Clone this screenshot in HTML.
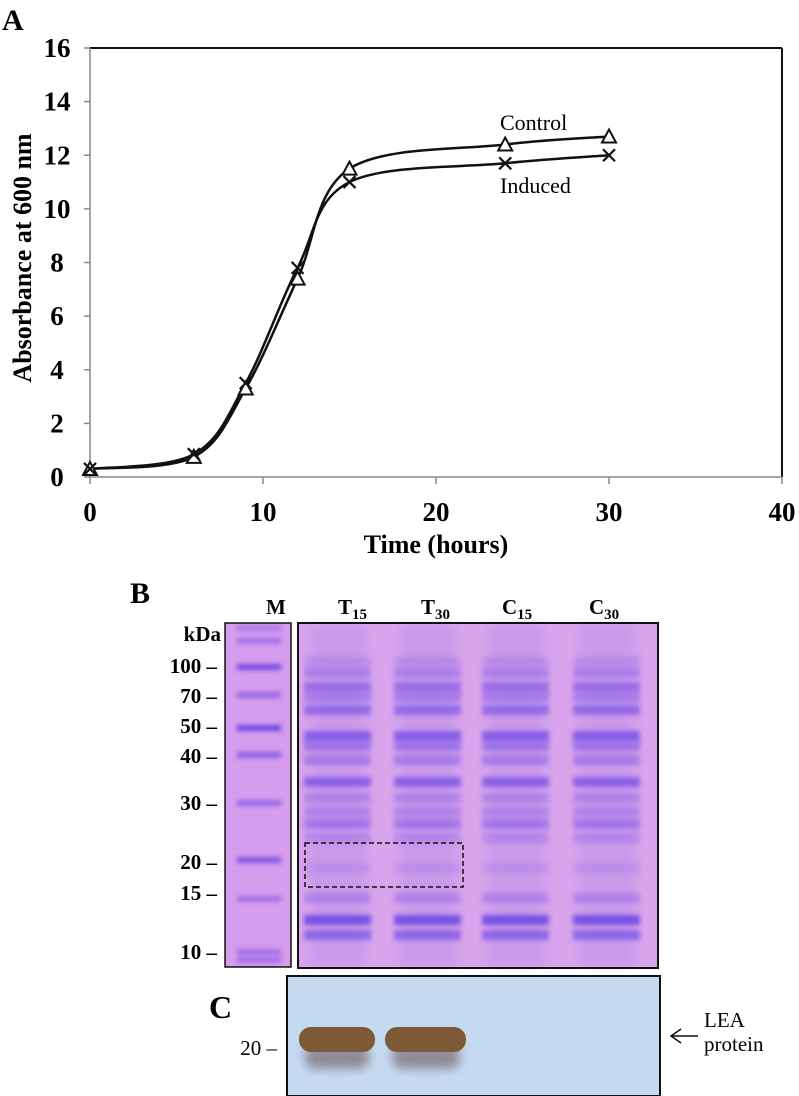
<!DOCTYPE html>
<html><head><meta charset="utf-8"><style>
html,body{margin:0;padding:0;background:#fff;}
svg{display:block;font-family:"Liberation Serif",serif;}
</style></head><body>
<svg id="fig" width="799" height="1096" viewBox="0 0 799 1096" xmlns="http://www.w3.org/2000/svg">
<defs>
<filter id="blur2" x="-10%" y="-300%" width="120%" height="700%"><feGaussianBlur stdDeviation="2.4"/></filter>
<filter id="blur4" x="-20%" y="-50%" width="140%" height="200%"><feGaussianBlur stdDeviation="5"/></filter>
</defs>
<text x="2" y="30" font-size="30" font-weight="bold">A</text>
<g id="chart"></g>

<!-- Panel B -->
<text x="130" y="603" font-size="30" font-weight="bold">B</text>
<g font-weight="bold" font-size="21">
<text x="266" y="614">M</text>
<text x="338" y="614">T<tspan font-size="15" dy="5">15</tspan></text>
<text x="421" y="614">T<tspan font-size="15" dy="5">30</tspan></text>
<text x="502" y="614">C<tspan font-size="15" dy="5">15</tspan></text>
<text x="589" y="614">C<tspan font-size="15" dy="5">30</tspan></text>
</g>
<g id="kda" font-weight="bold" font-size="21" text-anchor="end"></g>
<rect x="225" y="623" width="66" height="344" fill="#d69ced"/>
<g id="mbands"></g>
<rect x="225" y="623" width="66" height="344" fill="none" stroke="#111" stroke-width="1.5"/>
<rect x="298" y="623" width="360" height="345" fill="#d9a4ec"/>
<g id="lanes"></g>
<rect x="298" y="623" width="360" height="345" fill="none" stroke="#111" stroke-width="2"/>
<rect x="305" y="843" width="158" height="44" fill="none" stroke="#111" stroke-width="1.5" stroke-dasharray="5,3"/>

<!-- Panel C -->
<text x="209" y="1018" font-size="32" font-weight="bold">C</text>
<rect x="287" y="976" width="373" height="120" fill="#c5daf1" stroke="#111" stroke-width="2"/>
<g>
<rect x="305" y="1045" width="64" height="24" rx="10" fill="#8f8a98" filter="url(#blur4)"/>
<rect x="392" y="1045" width="68" height="24" rx="10" fill="#8f8a98" filter="url(#blur4)"/>
<rect x="299" y="1027" width="76" height="25" rx="12" fill="#7d5a35"/>
<rect x="385" y="1027" width="81" height="25" rx="12" fill="#7d5a35"/>
</g>
<text x="277" y="1055" font-size="21" text-anchor="end">20 –</text>
<g>
<path d="M698 1036 H671 M681 1029 L671 1036 L681 1043" fill="none" stroke="#111" stroke-width="1.5"/>
<text x="704" y="1027" font-size="21">LEA</text>
<text x="704" y="1051" font-size="21">protein</text>
</g>
</svg>
<script>
const timeHours=[0,6,9,12,15,24,30];
const controlValues=[0.3,0.75,3.3,7.4,11.5,12.4,12.7];
const inducedValues=[0.3,0.85,3.5,7.8,11.0,11.7,12.0];
const xTicks=[0,10,20,30,40];
const yTicks=[0,2,4,6,8,10,12,14,16];
const NS='http://www.w3.org/2000/svg';
const X0=90,X1=782,Y0=477,Y1=48;
const xs=v=>X0+(X1-X0)*v/40;
const ys=v=>Y0-(Y0-Y1)*v/16;
const chart=document.getElementById('chart');
function mk(tag,attrs,parent){const e=document.createElementNS(NS,tag);for(const k in attrs)e.setAttribute(k,attrs[k]);(parent||chart).appendChild(e);return e;}
let e;
e=mk('line',{x1:X0,y1:Y1,x2:X1,y2:Y1,stroke:'#111','stroke-width':2});
e=mk('line',{x1:X1,y1:Y1,x2:X1,y2:Y0,stroke:'#111','stroke-width':2});
e=mk('line',{x1:X0,y1:Y1,x2:X0,y2:Y0,stroke:'#888','stroke-width':1.5});


e=mk('line',{x1:X0,y1:Y0,x2:X1,y2:Y0,stroke:'#888','stroke-width':1.5});


yTicks.forEach(v=>{
 mk('line',{x1:X0-6,x2:X0,y1:ys(v),y2:ys(v),stroke:'#888','stroke-width':1.5});
 const t=mk('text',{x:57,y:ys(v)+9,'font-size':27,'font-weight':'bold','text-anchor':'middle'});
 t.textContent=v;
 
 
});
xTicks.forEach(v=>{
 mk('line',{x1:xs(v),x2:xs(v),y1:Y0,y2:Y0+7,stroke:'#888','stroke-width':1.5});
 const t=mk('text',{x:xs(v),y:521,'font-size':27,'font-weight':'bold','text-anchor':'middle'});
 t.textContent=v;
 
 
});
e=mk('text',{x:436,y:553,'font-size':26,'font-weight':'bold','text-anchor':'middle'});
e.textContent='Time (hours)';


e=mk('text',{x:0,y:0,'font-size':26,'font-weight':'bold','text-anchor':'middle',transform:'translate(31,258) rotate(-90)'});
e.textContent='Absorbance at 600 nm';


function spline(vals){
 const p=timeHours.map((t,i)=>[xs(t),ys(vals[i])]);
 let d='M'+p[0][0]+' '+p[0][1];
 for(let i=0;i<p.length-1;i++){
  const a=p[i-1]||p[i],b=p[i],c=p[i+1],f=p[i+2]||c;
  const c1=[b[0]+(c[0]-a[0])/6,b[1]+(c[1]-a[1])/6],c2=[c[0]-(f[0]-b[0])/6,c[1]-(f[1]-b[1])/6];
  d+=` C${c1[0]} ${c1[1]} ${c2[0]} ${c2[1]} ${c[0]} ${c[1]}`;
 }
 return d;
}
e=mk('path',{d:spline(controlValues),fill:'none',stroke:'#111','stroke-width':2.5});


e=mk('path',{d:spline(inducedValues),fill:'none',stroke:'#111','stroke-width':2.5});


timeHours.forEach((t,i)=>{
 const x=xs(t),y=ys(controlValues[i]);
 const m=mk('path',{d:`M${x-7} ${y+6} L${x} ${y-7} L${x+7} ${y+6} Z`,fill:'#fff',stroke:'#111','stroke-width':2});
 
 
});
timeHours.forEach((t,i)=>{
 const x=xs(t),y=ys(inducedValues[i]);
 const m=mk('path',{d:`M${x-6} ${y-6} L${x+6} ${y+6} M${x+6} ${y-6} L${x-6} ${y+6}`,stroke:'#111','stroke-width':2.2});
 
 
});
e=mk('text',{x:500,y:130,'font-size':22});
e.textContent='Control';


e=mk('text',{x:500,y:193,'font-size':22});
e.textContent='Induced';



// gel
const kdaLabels=[['kDa',641],['100 –',673],['70 –',703],['50 –',733],['40 –',763],['30 –',810],['20 –',869],['15 –',900],['10 –',959]];
const kg=document.getElementById('kda');
kdaLabels.forEach(([s,y])=>{const t=mk('text',{x:s==='kDa'?221:217,y:y},kg);t.textContent=s;});
const markerBands=[[628,0.4],[641,0.5],[667,0.9],[695,0.6],[728,1],[755,0.7],[803,0.6],[860,0.8],[899,0.5],[952,0.5],[960,0.5]];
const mg=document.getElementById('mbands');
markerBands.forEach(([y,o])=>mk('rect',{x:237,y:y-3,width:44,height:6,fill:'#6a45e0',opacity:o,filter:'url(#blur2)'},mg));
const laneX=[304,394,482,573];
const gelBands=[[662,0.2],[673,0.35],[687,0.55],[697,0.4],[710,0.6],[736,0.75],[746,0.5],[760,0.4],[782,0.7],[798,0.3],[812,0.3],[824,0.45],[838,0.25],[868,0.15],[898,0.3],[920,0.9],[935,0.65]];
const lg=document.getElementById('lanes');
laneX.forEach(x=>{
 mk('rect',{x:x+6,y:625,width:56,height:340,fill:'#b48ae8',opacity:0.4,filter:'url(#blur4)'},lg);
 gelBands.forEach(([y,o])=>mk('rect',{x:x,y:y-5,width:67,height:10,fill:'#7048e4',opacity:o,filter:'url(#blur2)'},lg));
});
</script>
</body></html>
